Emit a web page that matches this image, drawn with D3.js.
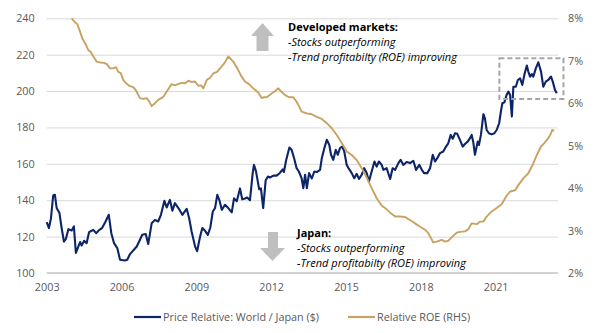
<!DOCTYPE html>
<html><head><meta charset="utf-8">
<script src="https://cdn.jsdelivr.net/npm/d3@7"></script>
<style>
body{margin:0;background:#fff}
svg{display:block}
text{font-family:"Open Sans",sans-serif}
</style>
</head><body>
<svg id="chart" width="604" height="333"></svg>
<script>
// ---- data (decimal years) ----
const priceYears = [2003.00,2003.09,2003.17,2003.26,2003.33,2003.40,2003.51,2003.60,2003.69,2003.77,2003.87,2004.00,2004.09,2004.17,2004.27,2004.34,2004.40,2004.50,2004.60,2004.70,2004.80,2004.87,2004.98,2005.11,2005.22,2005.35,2005.49,2005.59,2005.70,2005.83,2005.94,2006.14,2006.23,2006.34,2006.41,2006.61,2006.74,2006.83,2006.97,2007.07,2007.21,2007.34,2007.47,2007.58,2007.72,2007.81,2007.94,2008.04,2008.14,2008.28,2008.44,2008.61,2008.71,2008.81,2008.95,2009.03,2009.15,2009.24,2009.35,2009.46,2009.56,2009.66,2009.75,2009.84,2009.92,2010.02,2010.15,2010.28,2010.42,2010.51,2010.62,2010.75,2010.84,2010.95,2011.04,2011.15,2011.26,2011.31,2011.39,2011.52,2011.59,2011.68,2011.78,2011.87,2011.95,2012.09,2012.22,2012.35,2012.46,2012.51,2012.60,2012.73,2012.82,2012.92,2013.02,2013.11,2013.22,2013.29,2013.36,2013.43,2013.52,2013.63,2013.73,2013.83,2013.96,2014.03,2014.13,2014.23,2014.33,2014.40,2014.49,2014.59,2014.67,2014.76,2014.85,2014.93,2015.03,2015.12,2015.23,2015.33,2015.43,2015.52,2015.63,2015.73,2015.83,2015.92,2016.03,2016.14,2016.23,2016.32,2016.43,2016.50,2016.63,2016.77,2016.87,2016.97,2017.10,2017.19,2017.30,2017.43,2017.57,2017.70,2017.81,2017.94,2018.04,2018.13,2018.26,2018.37,2018.48,2018.57,2018.66,2018.77,2018.90,2019.01,2019.10,2019.20,2019.28,2019.37,2019.46,2019.57,2019.68,2019.78,2019.88,2019.97,2020.04,2020.10,2020.17,2020.28,2020.33,2020.41,2020.51,2020.57,2020.64,2020.73,2020.84,2020.95,2021.04,2021.14,2021.22,2021.27,2021.35,2021.44,2021.51,2021.58,2021.65,2021.71,2021.81,2021.89,2021.98,2022.07,2022.15,2022.25,2022.31,2022.38,2022.45,2022.51,2022.61,2022.71,2022.82,2022.91,2023.01,2023.11,2023.22,2023.29,2023.38,2023.45];
const priceValues = [128,124.7,130,142.6,143,135.7,133,124.7,117.3,118.8,124.1,123.4,125.6,111,114.6,117,115.1,117.7,116.4,122.5,123.2,123.7,121.9,123.7,124.7,128,132,121.9,116.4,113.7,107.3,106.9,107.3,110.4,111.5,114.6,118.3,121,121.4,115.9,127.4,129.2,128.3,132,139.7,136,140.2,134.2,138.4,135.7,132,135.3,130.2,122.8,114.5,112,120,124.7,123.2,121,125,133.8,135.7,143,140.2,134.7,137.5,135.7,133.3,141,139.5,146.5,140.5,141,141.5,140,155,159.4,156,146,146.5,135.7,151,153,152.5,153.5,153.5,155,157,155.5,162,169,167.7,163.1,157.6,155.8,152.1,146.6,154,146.6,154.9,152,155.8,155.5,156.7,163.1,168.6,173.2,170.4,165,162.2,167.7,165,168.6,169.5,166.8,159.4,157.2,154.9,152.1,154.5,151.7,154,157.6,155,150.3,155.8,161.3,158.5,161.3,159.4,156.7,157.6,151.7,157.6,156.7,160.4,162.2,159.4,161,160.4,161.7,156.7,159.4,156.7,154.9,154.9,157.6,165,161.3,163.1,165.9,166.8,169.5,171.3,175.9,173.8,176.8,176.5,173.2,169.5,171,172.2,174.1,175.9,172.2,165,172.2,170.4,175.9,187.3,185,178.6,176.8,176.2,176.8,178.6,182.3,189.6,193.3,193.8,197.9,199.7,197.9,186,202.4,202.4,206.1,207,203.4,208.9,214,210.7,207.9,209.3,207.9,212.5,215.8,210.7,202.4,205.2,206.1,208,205.2,200.6,198.8];

const roeYears = [2004.00,2004.13,2004.23,2004.34,2004.44,2004.58,2004.67,2004.76,2004.87,2005.00,2005.14,2005.30,2005.41,2005.54,2005.67,2005.78,2005.87,2005.97,2006.07,2006.18,2006.31,2006.47,2006.58,2006.74,2006.86,2007.01,2007.10,2007.21,2007.34,2007.47,2007.68,2007.82,2008.01,2008.14,2008.26,2008.41,2008.55,2008.68,2008.79,2008.95,2009.08,2009.19,2009.28,2009.42,2009.55,2009.68,2009.83,2009.95,2010.11,2010.28,2010.48,2010.68,2010.79,2010.95,2011.11,2011.28,2011.48,2011.62,2011.71,2011.82,2012.02,2012.15,2012.29,2012.39,2012.56,2012.72,2012.89,2013.00,2013.09,2013.22,2013.43,2013.63,2013.83,2014.03,2014.23,2014.43,2014.63,2014.83,2015.03,2015.23,2015.43,2015.63,2015.83,2016.03,2016.23,2016.43,2016.63,2016.81,2016.97,2017.17,2017.37,2017.50,2017.65,2017.84,2017.97,2018.17,2018.30,2018.41,2018.50,2018.64,2018.84,2018.97,2019.10,2019.24,2019.44,2019.57,2019.77,2019.89,2020.04,2020.24,2020.37,2020.51,2020.64,2020.84,2021.04,2021.24,2021.44,2021.58,2021.78,2021.91,2022.11,2022.31,2022.51,2022.65,2022.82,2022.95,2023.09,2023.18,2023.27,2023.35];
const roeValues = [8.0,7.91,7.86,7.68,7.51,7.37,7.25,7.21,7.10,6.98,6.96,6.95,6.92,6.82,6.82,6.85,6.74,6.71,6.55,6.47,6.41,6.38,6.30,6.12,6.10,6.12,6.05,5.93,6.00,6.08,6.15,6.28,6.45,6.42,6.45,6.48,6.47,6.53,6.50,6.51,6.41,6.42,6.35,6.55,6.60,6.70,6.74,6.82,6.93,7.10,6.98,6.78,6.65,6.51,6.45,6.35,6.25,6.12,6.14,6.14,6.23,6.28,6.35,6.28,6.19,6.14,6.14,6.05,5.96,5.80,5.76,5.74,5.68,5.63,5.53,5.41,5.25,5.06,4.86,4.78,4.66,4.47,4.25,4.00,3.76,3.59,3.50,3.40,3.33,3.33,3.32,3.27,3.22,3.14,3.09,3.02,2.94,2.82,2.72,2.74,2.78,2.74,2.76,2.84,2.95,2.97,2.98,3.02,3.17,3.15,3.21,3.21,3.33,3.45,3.53,3.62,3.82,3.92,3.95,4.07,4.23,4.35,4.58,4.78,4.98,5.06,5.16,5.24,5.37,5.35];

const leftTicks = [100,120,140,160,180,200,220,240];
const rightTicks = [2,3,4,5,6,7,8];
const xTicks = [2003,2006,2009,2012,2015,2018,2021];
const seriesNames = ["Price Relative: World / Japan ($)", "Relative ROE (RHS)"];
const noteUp = ["Developed markets:", "-Stocks outperforming", "-Trend profitabilty (ROE) improving"];
const noteDown = ["Japan:", "-Stocks outperforming", "-Trend profitabilty (ROE) improving"];
const highlightYears = [2021.15, 2023.72];
const highlightValues = [195.7, 218];

// ---- layout ----
const svg = d3.select("#chart");
const pLeft = 46.7, pRight = 558, pTop = 18.3, pBottom = 273;
const x = d3.scaleLinear().domain([2003, 2023.5]).range([pLeft, pRight]);
const yL = d3.scaleLinear().domain([100, 240]).range([pBottom, pTop]);
const yR = d3.scaleLinear().domain([2, 8]).range([pBottom, pTop]);
const BLUE = "#0c2468", GOLD = "#c9a263", GRID = "#d9d9d9", LABEL = "#595959";

// gridlines
svg.append("g").attr("transform", `translate(${pLeft},0)`)
  .call(d3.axisLeft(yL).tickValues(leftTicks.slice(1)).tickSize(-(pRight-pLeft)).tickFormat(""))
  .call(g => g.select(".domain").remove())
  .call(g => g.selectAll("line").attr("stroke", GRID).attr("stroke-width", 1));
// bottom axis line
svg.append("line").attr("x1", pLeft).attr("x2", pRight).attr("y1", pBottom).attr("y2", pBottom)
  .attr("stroke", "#a6a6a6").attr("stroke-width", 1.2);

// left axis labels
svg.append("g").attr("transform", `translate(${pLeft},0)`)
  .call(d3.axisLeft(yL).tickValues(leftTicks).tickSize(0).tickPadding(12).tickFormat(d3.format("d")))
  .call(g => g.select(".domain").remove())
  .call(g => g.selectAll("text").attr("fill", LABEL).style("font-size", "10.8px"));
// right axis labels
svg.append("g").attr("transform", `translate(${pRight},0)`)
  .call(d3.axisRight(yR).tickValues(rightTicks).tickSize(0).tickPadding(10).tickFormat(d => d + "%"))
  .call(g => g.select(".domain").remove())
  .call(g => g.selectAll("text").attr("fill", LABEL).style("font-size", "10.8px"));
// bottom axis labels
svg.append("g").attr("transform", `translate(0,${pBottom})`)
  .call(d3.axisBottom(x).tickValues(xTicks).tickSize(0).tickPadding(10).tickFormat(d3.format("d")))
  .call(g => g.select(".domain").remove())
  .call(g => g.selectAll("text").attr("fill", LABEL).style("font-size", "10.8px"));

// lines
const priceData = priceYears.map((t, i) => [t, priceValues[i]]);
const roeData = roeYears.map((t, i) => [t, roeValues[i]]);
svg.append("path").datum(priceData)
  .attr("fill", "none").attr("stroke", BLUE).attr("stroke-width", 2.1).attr("stroke-linejoin", "round")
  .attr("d", d3.line().x(d => x(d[0])).y(d => yL(d[1])));
svg.append("path").datum(roeData)
  .attr("fill", "none").attr("stroke", GOLD).attr("stroke-width", 1.9).attr("stroke-linejoin", "round")
  .attr("d", d3.line().x(d => x(d[0])).y(d => yR(d[1])));

// highlight box
svg.append("rect")
  .attr("x", x(highlightYears[0])).attr("y", yL(highlightValues[1]))
  .attr("width", x(highlightYears[1]) - x(highlightYears[0]))
  .attr("height", yL(highlightValues[0]) - yL(highlightValues[1]))
  .attr("fill", "none").attr("stroke", "#a6a6a6").attr("stroke-width", 2).attr("stroke-dasharray", "5,3");

// arrows
svg.append("path").attr("fill", "#bfbfbf")
  .attr("d", "M251,36 L262.5,23 L274,36 L268.5,36 L268.5,51 L256.5,51 L256.5,36 Z");
svg.append("path").attr("fill", "#bfbfbf")
  .attr("d", "M268,232 L278,232 L278,248 L285,248 L272.5,261 L260,248 L268,248 Z");

// annotations
function note(lines, x0, y0) {
  const g = svg.append("g");
  lines.forEach((s, i) => {
    g.append("text").attr("x", x0).attr("y", y0 + i * 15)
      .attr("fill", "#000").style("font-size", "11px")
      .style("font-weight", i === 0 ? "bold" : "normal")
      .style("font-style", i === 0 ? "normal" : "italic")
      .text(s);
  });
}
note(noteUp, 288, 31);
note(noteDown, 297, 237);

// legend
const legendItems = [
  {name: seriesNames[0], color: BLUE, x0: 134},
  {name: seriesNames[1], color: GOLD, x0: 348}
];
const lg = svg.append("g");
legendItems.forEach(it => {
  lg.append("line").attr("x1", it.x0).attr("x2", it.x0 + 27).attr("y1", 317).attr("y2", 317)
    .attr("stroke", it.color).attr("stroke-width", 2.2);
  lg.append("text").attr("x", it.x0 + 29).attr("y", 321).attr("fill", LABEL)
    .style("font-size", "10.8px").text(it.name);
});
</script>
</body></html>
